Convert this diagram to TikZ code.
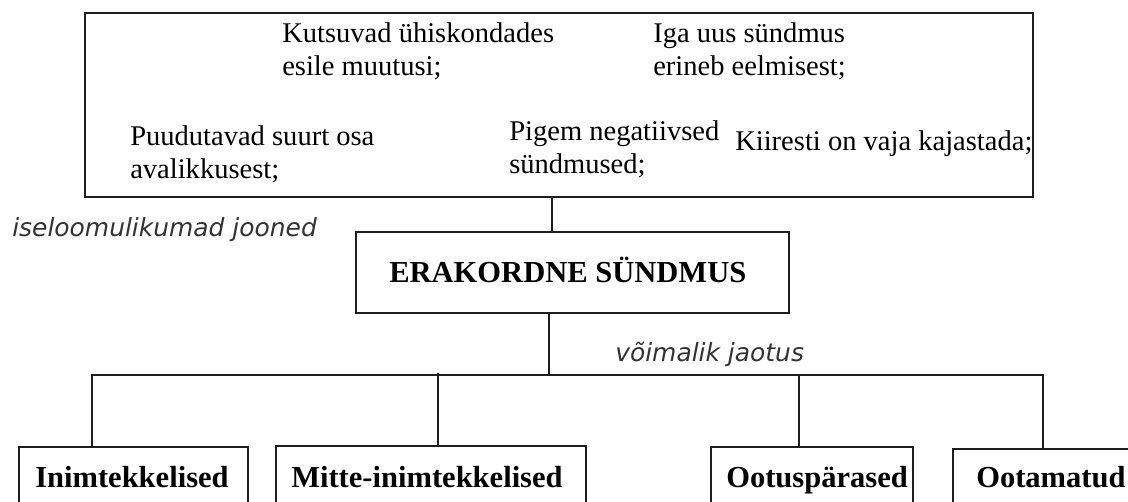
\documentclass[tikz,border=0pt]{standalone}
\usepackage{fontspec}
\setmainfont{Liberation Serif}
\newfontfamily\labelfont{DejaVu Sans}
\usetikzlibrary{fit}
\definecolor{linec}{HTML}{1E1E1E}
\definecolor{labc}{HTML}{333333}
\begin{document}
\begin{tikzpicture}[x=0.75pt,y=-0.75pt,
  box/.style={draw=linec, line width=1.3pt, inner sep=0pt},
  conn/.style={draw=linec, line width=1.3pt},
  txt/.style={anchor=base west, inner sep=0pt, font=\fontsize{21.4}{25}\selectfont},
  head/.style={anchor=base west, inner sep=0pt, font=\fontsize{22.9}{26}\selectfont\bfseries},
  lab/.style={anchor=base west, inner sep=0pt, text=labc, font=\labelfont\itshape\fontsize{18.7}{22}\selectfont}]
\fill[white] (0,0) rectangle (1128,501);
\useasboundingbox (0,0) rectangle (1128,501);
\clip (0,0) rectangle (1128,501);
% top box with characteristics
\node[box, fit={(85,13) (1033,197)}] (top) {};
\node[txt] (t1a) at (282,42) {Kutsuvad ühiskondades};
\node[txt] (t1b) at (282,75) {esile muutusi;};
\node[txt] (t2a) at (653,42) {Iga uus sündmus};
\node[txt] (t2b) at (653,75) {erineb eelmisest;};
\node[txt] (t3a) at (130,145) {Puudutavad suurt osa};
\node[txt] (t3b) at (130,178) {avalikkusest;};
\node[txt] (t4a) at (509,140) {Pigem negatiivsed};
\node[txt] (t4b) at (509,173) {sündmused;};
\node[txt] (t5) at (735,150) {Kiiresti on vaja kajastada;};
\node[lab] (lab1) at (12,236) {iseloomulikumad jooned};
% central box
\node[box, fit={(356,232) (789,313)}] (erak) {};
\node[head] (erakt) at (389,282) {ERAKORDNE SÜNDMUS};
\coordinate (c1) at (552,0);
\draw[conn] (top.south -| c1) -- (erak.north -| c1);
\node[lab] (lab2) at (615,361) {võimalik jaotus};
% bottom boxes
\node[box, fit={(19,447) (248,520)}] (b1) {};
\node[box, fit={(276,446) (586,520)}] (b2) {};
\node[box, fit={(711,447) (913,520)}] (b3) {};
\node[box, fit={(953,449) (1140,520)}] (b4) {};
\node[head] (b1t) at (35,487) {Inimtekkelised};
\node[head] (b2t) at (291,487) {Mitte-inimtekkelised};
\node[head] (b3t) at (726,487) {Ootuspärased};
\node[head] (b4t) at (976,487) {Ootamatud};
% tree connectors
\coordinate (hub) at (549,375);
\coordinate (d1) at (92,375);
\coordinate (d2) at (438,375);
\coordinate (d3) at (799,375);
\coordinate (d4) at (1043,375);
\draw[conn] (erak.south -| hub) -- (hub);
\draw[conn] (b1.north -| d1) -- (d1) -- (d4) -- (b4.north -| d4);
\draw[conn] ([yshift=1.5pt]d2) -- (b2.north -| d2);
\draw[conn] (d3) -- (b3.north -| d3);
\end{tikzpicture}
\end{document}
